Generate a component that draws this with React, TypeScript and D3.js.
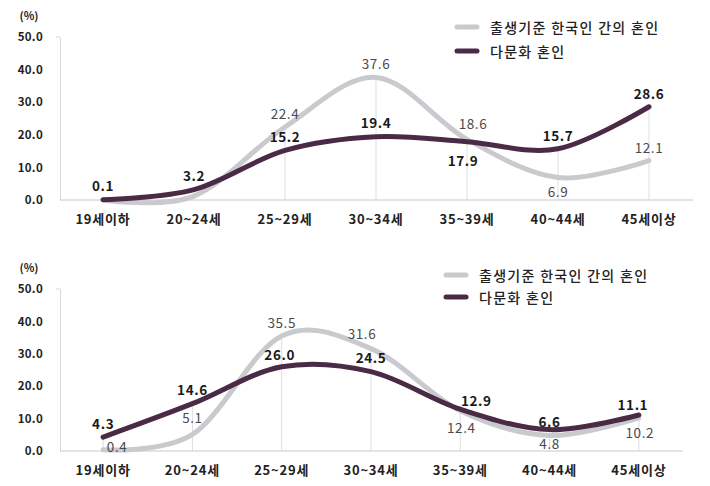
import {useEffect, useRef} from "react";
import * as d3 from "d3";

const categories = ["19세이하", "20~24세", "25~29세", "30~34세", "35~39세", "40~44세", "45세이상"];
const yTicks = [0, 10, 20, 30, 40, 50];
const seriesNames = ["출생기준 한국인 간의 혼인", "다문화 혼인"];

// top panel
const topNative = [0.0, 1.2, 22.4, 37.6, 18.6, 6.9, 12.1];
const topNativeShown = [false, false, true, true, true, true, true];
const topMulti = [0.1, 3.2, 15.2, 19.4, 17.9, 15.7, 28.6];

// bottom panel
const botNative = [0.4, 5.1, 35.5, 31.6, 12.4, 4.8, 10.2];
const botMulti = [4.3, 14.6, 26.0, 24.5, 12.9, 6.6, 11.1];

// label nudges [dx, dy] relative to the point (styling only)
const topNativeNudge = [[0, 0], [0, 0], [0, -14], [0, -14], [6, -16], [0, 13], [0, -14]];
const topMultiNudge = [[0, -15], [0, -15], [0, -14], [0, -15], [-4, 18], [0, -14], [0, -14]];
const botNativeNudge = [[14, -4], [0, -17], [0, -14], [-9, -16], [1, 16], [0, 8], [1, 14]];
const botMultiNudge = [[0, -14], [0, -15], [-2, -13], [0, -15], [16, -9], [0, -9], [-6, -11]];

const GRAY = "#c9cace";
const PURPLE = "#4b2a45";
const FONT = "'Noto Sans CJK KR', 'Noto Sans', sans-serif";

function drawPanel(svg: any, o: any) {
    const g = svg.append("g");
    const x = d3.scalePoint().domain(categories).range(o.xRange).padding(0.5);
    const y = d3.scaleLinear().domain([0, 50]).range([o.y0, o.y50]);

    g.append("text")
        .attr("x", 29).attr("y", o.y50 - 22)
        .attr("text-anchor", "middle").attr("dominant-baseline", "central")
        .attr("font-family", FONT).attr("font-size", 11).attr("font-weight", 700)
        .attr("fill", "#222").text("(%)");

    // y axis
    g.append("g")
        .attr("transform", `translate(${o.axisX},0)`)
        .call(d3.axisLeft(y).tickValues(yTicks).tickSize(0).tickPadding(17).tickFormat(d3.format(".1f")))
        .call((a: any) => a.select(".domain").attr("stroke", "#d9d9d9"))
        .call((a: any) => a.selectAll("text")
            .attr("font-family", FONT).attr("font-size", 11.5).attr("font-weight", 700)
            .attr("letter-spacing", 0.3).attr("fill", "#222"));
    g.append("line")
        .attr("x1", o.axisX - 4).attr("x2", o.axisX)
        .attr("y1", y(50)).attr("y2", y(50))
        .attr("stroke", "#d9d9d9");

    // baseline
    g.append("line")
        .attr("x1", o.axisX).attr("x2", o.baseEnd)
        .attr("y1", y(0)).attr("y2", y(0))
        .attr("stroke", "#c8c8c8").attr("stroke-width", 1);

    // drop lines
    categories.forEach((c, i) => {
        const top = Math.max(o.native[i], o.multi[i]);
        g.append("line")
            .attr("x1", x(c)).attr("x2", x(c))
            .attr("y1", y(0)).attr("y2", y(top))
            .attr("stroke", "#dedede").attr("stroke-width", 1);
    });

    // x labels
    categories.forEach((c) => {
        g.append("text")
            .attr("x", x(c)).attr("y", o.y0 + 18)
            .attr("text-anchor", "middle").attr("dominant-baseline", "central")
            .attr("font-family", FONT).attr("font-size", 13).attr("font-weight", 700)
            .attr("letter-spacing", 0.8)
            .attr("fill", "#222").text(c);
    });

    const line = d3.line<number>()
        .x((_, i) => x(categories[i]) as number)
        .y((d) => y(d))
        .curve(d3.curveCardinal.tension(0));

    g.append("path").datum(o.native).attr("d", line)
        .attr("fill", "none").attr("stroke", GRAY).attr("stroke-width", 5).attr("stroke-linecap", "round");
    g.append("path").datum(o.multi).attr("d", line)
        .attr("fill", "none").attr("stroke", PURPLE).attr("stroke-width", 5).attr("stroke-linecap", "round");

    // data labels
    o.native.forEach((v: number, i: number) => {
        if(o.nativeShown && !o.nativeShown[i]) return;
        const [dx, dy] = o.nativeNudge[i];
        g.append("text")
            .attr("x", (x(categories[i]) as number) + dx).attr("y", y(v) + dy)
            .attr("text-anchor", "middle").attr("dominant-baseline", "central")
            .attr("font-family", FONT).attr("font-size", 13.5).attr("letter-spacing", 0.6)
            .attr("fill", "#4a4a4a").text(v.toFixed(1));
    });
    o.multi.forEach((v: number, i: number) => {
        const [dx, dy] = o.multiNudge[i];
        g.append("text")
            .attr("x", (x(categories[i]) as number) + dx).attr("y", y(v) + dy)
            .attr("text-anchor", "middle").attr("dominant-baseline", "central")
            .attr("font-family", FONT).attr("font-size", 13.5).attr("font-weight", 600)
            .attr("letter-spacing", 0.6)
            .attr("fill", "#1a1a1a").text(v.toFixed(1));
    });

    // legend
    [GRAY, PURPLE].forEach((col, i) => {
        const ly = o.legY + i * o.legGap;
        g.append("line")
            .attr("x1", o.legX).attr("x2", o.legX + 20)
            .attr("y1", ly).attr("y2", ly)
            .attr("stroke", col).attr("stroke-width", 5).attr("stroke-linecap", "round");
        g.append("text")
            .attr("x", o.legX + 33).attr("y", ly)
            .attr("dominant-baseline", "central")
            .attr("font-family", FONT).attr("font-size", 14).attr("font-weight", 500)
            .attr("letter-spacing", 1.3)
            .attr("fill", "#222").text(seriesNames[i]);
    });
}

export default function App() {
    const ref = useRef<SVGSVGElement>(null);

    useEffect(() => {
        const el = ref.current;
        if(!el) return;
        const svg = d3.select(el);
        svg.selectAll("*").remove();

        drawPanel(svg, {
            xRange: [57.5, 694.5], axisX: 60, baseEnd: 693, y0: 200, y50: 37,
            native: topNative, nativeShown: topNativeShown, multi: topMulti,
            nativeNudge: topNativeNudge, multiNudge: topMultiNudge,
            legX: 457, legY: 27, legGap: 24,
        });
        drawPanel(svg, {
            xRange: [58.5, 683.5], axisX: 60, baseEnd: 683, y0: 451, y50: 289,
            native: botNative, nativeShown: null, multi: botMulti,
            nativeNudge: botNativeNudge, multiNudge: botMultiNudge,
            legX: 446, legY: 275, legGap: 22,
        });
    }, []);

    return (
        <svg ref={ref} width={710} height={486}
             style={{position: "absolute", left: 0, top: 0, background: "#fff"}} />
    );
}
